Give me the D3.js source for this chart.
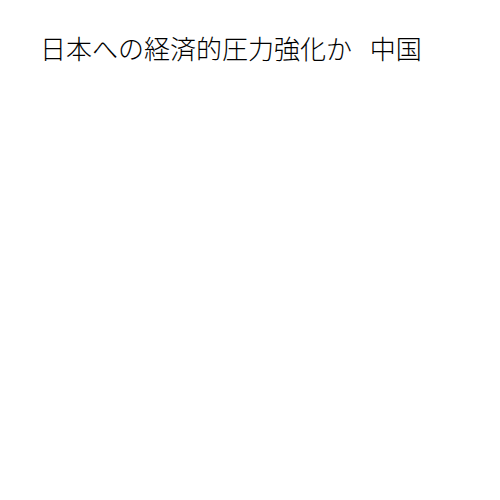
<!DOCTYPE html>
<html><head><meta charset="utf-8">
<script src="https://cdn.jsdelivr.net/npm/d3@7"></script>
<style>html,body{margin:0;padding:0;background:#fff;}</style>
</head><body>
<script>
const titleText = "日本への経済的圧力強化か 中国";
const categories = [];
const values = [];

const W = 500, H = 500;
const svg = d3.select("body").append("svg").attr("width", W).attr("height", H);
svg.append("rect").attr("width", W).attr("height", H).attr("fill", "#fff");
svg.append("text")
  .attr("x", 40).attr("y", 59)
  .attr("font-family", "'Noto Sans CJK JP', sans-serif")
  .attr("font-weight", 300)
  .attr("font-size", 26)
  .attr("word-spacing", 12)
  .attr("fill", "#000")
  .text(titleText);
</script>
</body></html>
